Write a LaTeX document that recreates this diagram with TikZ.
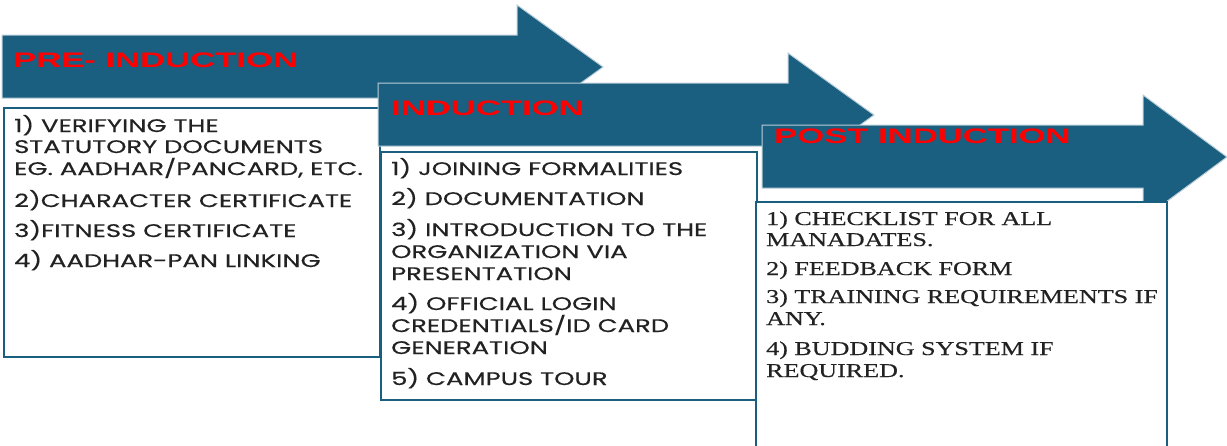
\documentclass[tikz,border=0pt]{standalone}
\usepackage{fontspec}
\setmainfont{Liberation Serif}
\newfontfamily\headfont{Liberation Sans}[FakeStretch=1.65]
\newfontfamily\itemfont{Poppins}[FakeStretch=1.42,FakeBold=0.4]
\newfontfamily\postfont{Liberation Serif}[FakeStretch=1.33,FakeBold=0.4]
\definecolor{arrowblue}{RGB}{26,94,128}
\definecolor{headred}{RGB}{255,0,0}
\definecolor{itemgray}{RGB}{34,34,34}

\tikzset{
  stagearrow/.style={fill=arrowblue, draw=white!70!arrowblue, line width=1pt, line join=miter},
  stagebox/.style={fill=white, draw=arrowblue, line width=1.5pt},
  stagetitle/.style={anchor=base west, inner sep=0pt, text=headred,
    font=\headfont\bfseries\fontsize{21}{21}\selectfont},
  preitem/.style={anchor=base west, inner sep=0pt, text=itemgray,
    font=\itemfont\fontsize{18.2}{22}\selectfont},
  postitem/.style={anchor=base west, inner sep=0pt, text=itemgray,
    font=\postfont\fontsize{19.6}{22}\selectfont},
}

\begin{document}
\begin{tikzpicture}[x=1pt,y=-1pt]
  \useasboundingbox (0,0) rectangle (1227,445);

  %%Pre-induction
  \draw[stagearrow] (2,35) -- (517,35) -- (517,5) -- (603,67) -- (517,129) -- (517,98) -- (2,98) -- cycle;
  \node[stagetitle] (pre) at (13,67) {PRE- INDUCTION};
  \draw[stagebox] (4,108) rectangle (380,357);
  \foreach \yy/\txt [count=\i] in {132/1) VERIFYING THE, 153/STATUTORY DOCUMENTS,
      175/{EG. AADHAR/PANCARD, ETC.}, 207/2)CHARACTER CERTIFICATE,
      237/3)FITNESS CERTIFICATE, 267/4) AADHAR-PAN LINKING}
    \node[preitem] (pre\i) at (14,\yy) {\txt};

  %%Induction
  \draw[stagearrow] (378,83) -- (788,83) -- (788,53) -- (874,115) -- (788,177) -- (788,146) -- (378,146) -- cycle;
  \node[stagetitle] (ind) at (391,115) {INDUCTION};
  \draw[stagebox] (381,152) rectangle (757,400);
  \foreach \yy/\txt [count=\i] in {175/1) JOINING FORMALITIES, 205/2) DOCUMENTATION,
      236/3) INTRODUCTION TO THE, 258/ORGANIZATION VIA, 280/PRESENTATION,
      310/4) OFFICIAL LOGIN, 332/{CREDENTIALS/ID CARD}, 354/GENERATION,
      385/5) CAMPUS TOUR}
    \node[preitem] (ind\i) at (391,\yy) {\txt};

  %%Post induction
  \draw[stagearrow] (762,125) -- (1143,125) -- (1143,95) -- (1227,157) -- (1143,219) -- (1143,188) -- (762,188) -- cycle;
  \node[stagetitle] (post) at (774,143) {POST INDUCTION};
  \fill[white] (756,202) rectangle (1167,446);
  \draw[stagebox, fill=none] (756,446) -- (756,202) -- (1167,202) -- (1167,446);
  \foreach \yy/\txt [count=\i] in {225/1) CHECKLIST FOR ALL, 246/MANADATES.,
      275/2) FEEDBACK FORM, 303/3) TRAINING REQUIREMENTS IF, 325/ANY.,
      355/4) BUDDING SYSTEM IF, 377/REQUIRED.}
    \node[postitem] (post\i) at (766,\yy) {\txt};
\end{tikzpicture}
\end{document}
